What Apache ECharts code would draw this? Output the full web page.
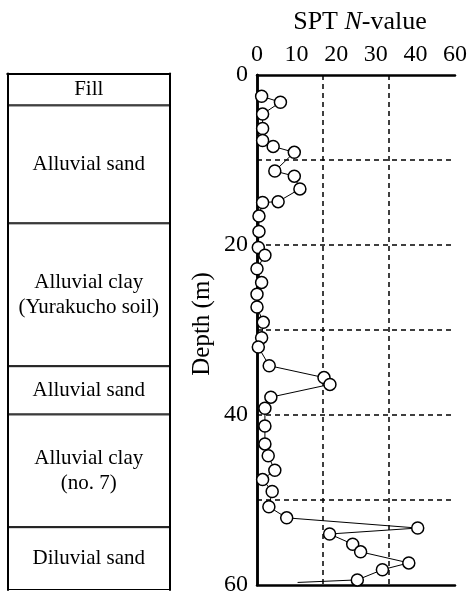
<!DOCTYPE html>
<html>
<head>
<meta charset="utf-8">
<script src="https://cdn.jsdelivr.net/npm/echarts@6/dist/echarts.min.js"></script>
<style>
  html, body { margin: 0; padding: 0; background: #fff; }
  #chart { width: 470px; height: 597px; }
</style>
</head>
<body>
<div id="chart"></div>
<script>
// ---- Data ----
var layerNames = ['Fill', 'Alluvial sand', 'Alluvial clay\n(Yurakucho soil)', 'Alluvial sand', 'Alluvial clay\n(no. 7)', 'Diluvial sand'];
var layerTop    = [0, 3.7, 17.4, 34.0, 39.6, 52.7];
var layerBottom = [3.7, 17.4, 34.0, 39.6, 52.7, 60];

var sptN = [1.4, 7.1, 1.7, 1.7, 1.7, 4.9, 11.3, 5.4, 11.3, 13.0, 6.4, 1.7, 0.6, 0.6, 0.4, 2.4, 0, 1.4, 0, 0, 1.9, 1.4, 0.4,
            3.7, 20.3, 22.1, 4.2, 2.4, 2.4, 2.4, 3.4, 5.4, 1.7, 4.6, 3.6, 9.0, 48.7, 22.0, 29.0, 31.4, 46.0, 38.0, 30.4, 12.3];
var sptDepth = [2.5, 3.2, 4.6, 6.3, 7.7, 8.4, 9.1, 11.3, 11.9, 13.4, 14.9, 15.0, 16.6, 18.4, 20.3, 21.2, 22.8, 24.4, 25.8, 27.3, 29.1, 30.9, 32.0,
                34.2, 35.6, 36.4, 37.9, 39.2, 41.3, 43.4, 44.8, 46.5, 47.6, 49.0, 50.8, 52.1, 53.3, 54.0, 55.2, 56.1, 57.4, 58.2, 59.4, 59.7];

var xTickLabels = ['0', '10', '20', '30', '40', '60'];
var yTickLabels = { 0: '0', 20: '20', 40: '40', 60: '60' };

// ---- Chart ----
var FONT = 'Liberation Serif';
var chart = echarts.init(document.getElementById('chart'), null, { renderer: 'canvas' });

var soilSeries = layerNames.map(function (name, i) {
  return {
    type: 'bar',
    xAxisIndex: 0,
    yAxisIndex: 0,
    stack: 'soil',
    barWidth: '100%',
    silent: true,
    z: 2,
    data: [layerBottom[i] - layerTop[i]],
    itemStyle: { color: '#fff', borderColor: '#000', borderWidth: 1 },
    label: {
      show: true,
      position: 'inside',
      formatter: name,
      color: '#000',
      fontFamily: FONT,
      fontSize: 21,
      lineHeight: 25
    }
  };
});

var lastIdx = sptN.length - 1;
var sptData = sptN.map(function (n, i) {
  var item = { value: [n, sptDepth[i]] };
  if (i === lastIdx) item.symbol = 'none';
  return item;
});

var boxLine = { show: true, lineStyle: { color: '#000', width: 2 } };
var plotLine = { show: true, lineStyle: { color: '#000', width: 2.5 } };
var dashed = { show: true, showMinLine: false, showMaxLine: false,
  lineStyle: { color: '#000', width: 1.5, type: [5, 4] } };

var option = {
  backgroundColor: '#fff',
  animation: false,
  grid: [
    { left: 7.5, right: 300, top: 73.5, bottom: 7 },
    { left: 257, right: 12, top: 75, bottom: 7 }
  ],
  xAxis: [
    { gridIndex: 0, type: 'category', data: ['soil'], position: 'bottom', axisLine: boxLine, axisTick: { show: false }, axisLabel: { show: false }, z: 5 },
    {
      gridIndex: 1, type: 'value', min: 0, max: 60, interval: 20, position: 'top',
      axisLine: plotLine,
      axisTick: { show: false },
      axisLabel: { show: false },
      splitLine: dashed
    },
    {
      gridIndex: 1, type: 'value', min: 0, max: 60, interval: 12, position: 'top',
      axisLine: { show: false },
      axisTick: { show: false },
      splitLine: { show: false },
      axisLabel: {
        show: true, margin: 8, color: '#000', fontFamily: FONT, fontSize: 24,
        formatter: function (v) { return xTickLabels[Math.round(v / 12)]; }
      },
      name: 'SPT {i|N}-value',
      nameLocation: 'middle',
      nameGap: 40,
      nameTextStyle: {
        color: '#000', fontFamily: FONT, fontSize: 26, padding: [0, 0, 0, 8],
        rich: { i: { color: '#000', fontFamily: FONT, fontSize: 26, fontStyle: 'italic' } }
      }
    },
    {
      gridIndex: 1, type: 'value', min: 0, max: 60, position: 'bottom',
      axisLine: plotLine,
      axisTick: { show: false }, axisLabel: { show: false }, splitLine: { show: false }
    },
    { gridIndex: 0, type: 'category', data: ['soil'], position: 'top', axisLine: boxLine, axisTick: { show: false }, axisLabel: { show: false }, z: 5 }
  ],
  yAxis: [
    { gridIndex: 0, type: 'value', inverse: true, min: 0, max: 60, position: 'left', axisLine: boxLine, axisTick: { show: false }, axisLabel: { show: false }, splitLine: { show: false }, z: 5 },
    {
      gridIndex: 1, type: 'value', inverse: true, min: 0, max: 60, interval: 10, position: 'left',
      axisLine: plotLine,
      axisTick: { show: false },
      axisLabel: {
        show: true, margin: 9, color: '#000', fontFamily: FONT, fontSize: 24,
        formatter: function (v) { return yTickLabels[v] !== undefined ? yTickLabels[v] : ''; }
      },
      splitLine: dashed,
      name: 'Depth (m)',
      nameLocation: 'middle',
      nameGap: 42,
      nameTextStyle: { color: '#000', fontFamily: FONT, fontSize: 25, padding: [0, 0, 0, 12] }
    },
    {
      gridIndex: 1, type: 'value', inverse: true, min: 0, max: 60, position: 'right',
      axisLine: plotLine,
      axisTick: { show: false }, axisLabel: { show: false }, splitLine: { show: false }
    },
    { gridIndex: 0, type: 'value', inverse: true, min: 0, max: 60, position: 'right', axisLine: boxLine, axisTick: { show: false }, axisLabel: { show: false }, splitLine: { show: false }, z: 5 }
  ],
  series: soilSeries.concat([
    {
      type: 'line',
      xAxisIndex: 1,
      yAxisIndex: 1,
      data: sptData,
      clip: false,
      z: 5,
      symbol: 'circle',
      symbolSize: 12,
      showAllSymbol: true,
      lineStyle: { color: '#000', width: 1 },
      itemStyle: { color: '#fff', borderColor: '#000', borderWidth: 1.5 },
      silent: true
    }
  ])
};

chart.setOption(option);
</script>
</body>
</html>
